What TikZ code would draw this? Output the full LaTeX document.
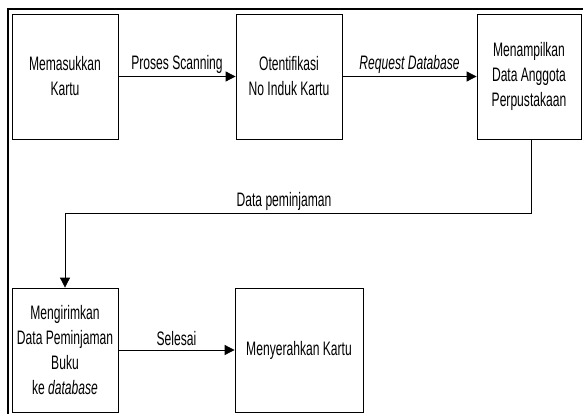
\documentclass[tikz,border=0pt]{standalone}
\usepackage{fontspec}
\setmainfont{Liberation Sans}[FakeStretch=0.62]
\usetikzlibrary{arrows.meta}
\begin{document}
\begin{tikzpicture}[x=1pt,y=-1pt,
  font=\fontsize{19.5}{25}\selectfont,
  stepbox/.style={draw,line width=0.8pt,align=center,inner sep=0pt,minimum height=125pt},
  flow/.style={line width=0.8pt,-{Triangle[length=10pt,width=10pt]}},
  plain/.style={line width=0.8pt},
  lbl/.style={inner sep=2.5pt}]
\useasboundingbox (0,0) rectangle (583,414);
% outer frame (top and left edges)
\draw[line width=2pt] (8,414) -- (8,9) -- (584,9);
% process boxes
\node[stepbox,minimum width=106pt] (b1) at (65,76.5) {Memasukkan\\Kartu};
\node[stepbox,minimum width=106pt] (b2) at (289,76.5) {Otentifikasi\\No Induk Kartu};
\node[stepbox,minimum width=104pt] (b3) at (529,76.5) {Menampilkan\\Data Anggota\\Perpustakaan};
\node[stepbox,minimum width=106pt,minimum height=124pt] (b4) at (65,350) {Mengirimkan\\Data Peminjaman\\Buku\\ke \textit{database}};
\node[stepbox,minimum width=128pt,minimum height=124pt] (b5) at (299,350) {Menyerahkan Kartu};
% connectors
\draw[flow] (b1) -- node[lbl,above] (l1) {Proses Scanning} (b2);
\draw[flow] (b2) -- node[lbl,above] (l2) {\textit{Request Database}} (b3);
\coordinate (turn) at (531,213);
\draw[plain] (b3.south -| turn) -- (turn) -- (turn -| b4.north);
\draw[flow] (turn -| b4.north) -- (b4.north);
\node[lbl,above] (l3) at (284,213) {Data peminjaman};
\draw[flow] (b4) -- node[lbl,above,inner sep=3.5pt] (l4) {Selesai} (b5);
\end{tikzpicture}
\end{document}
